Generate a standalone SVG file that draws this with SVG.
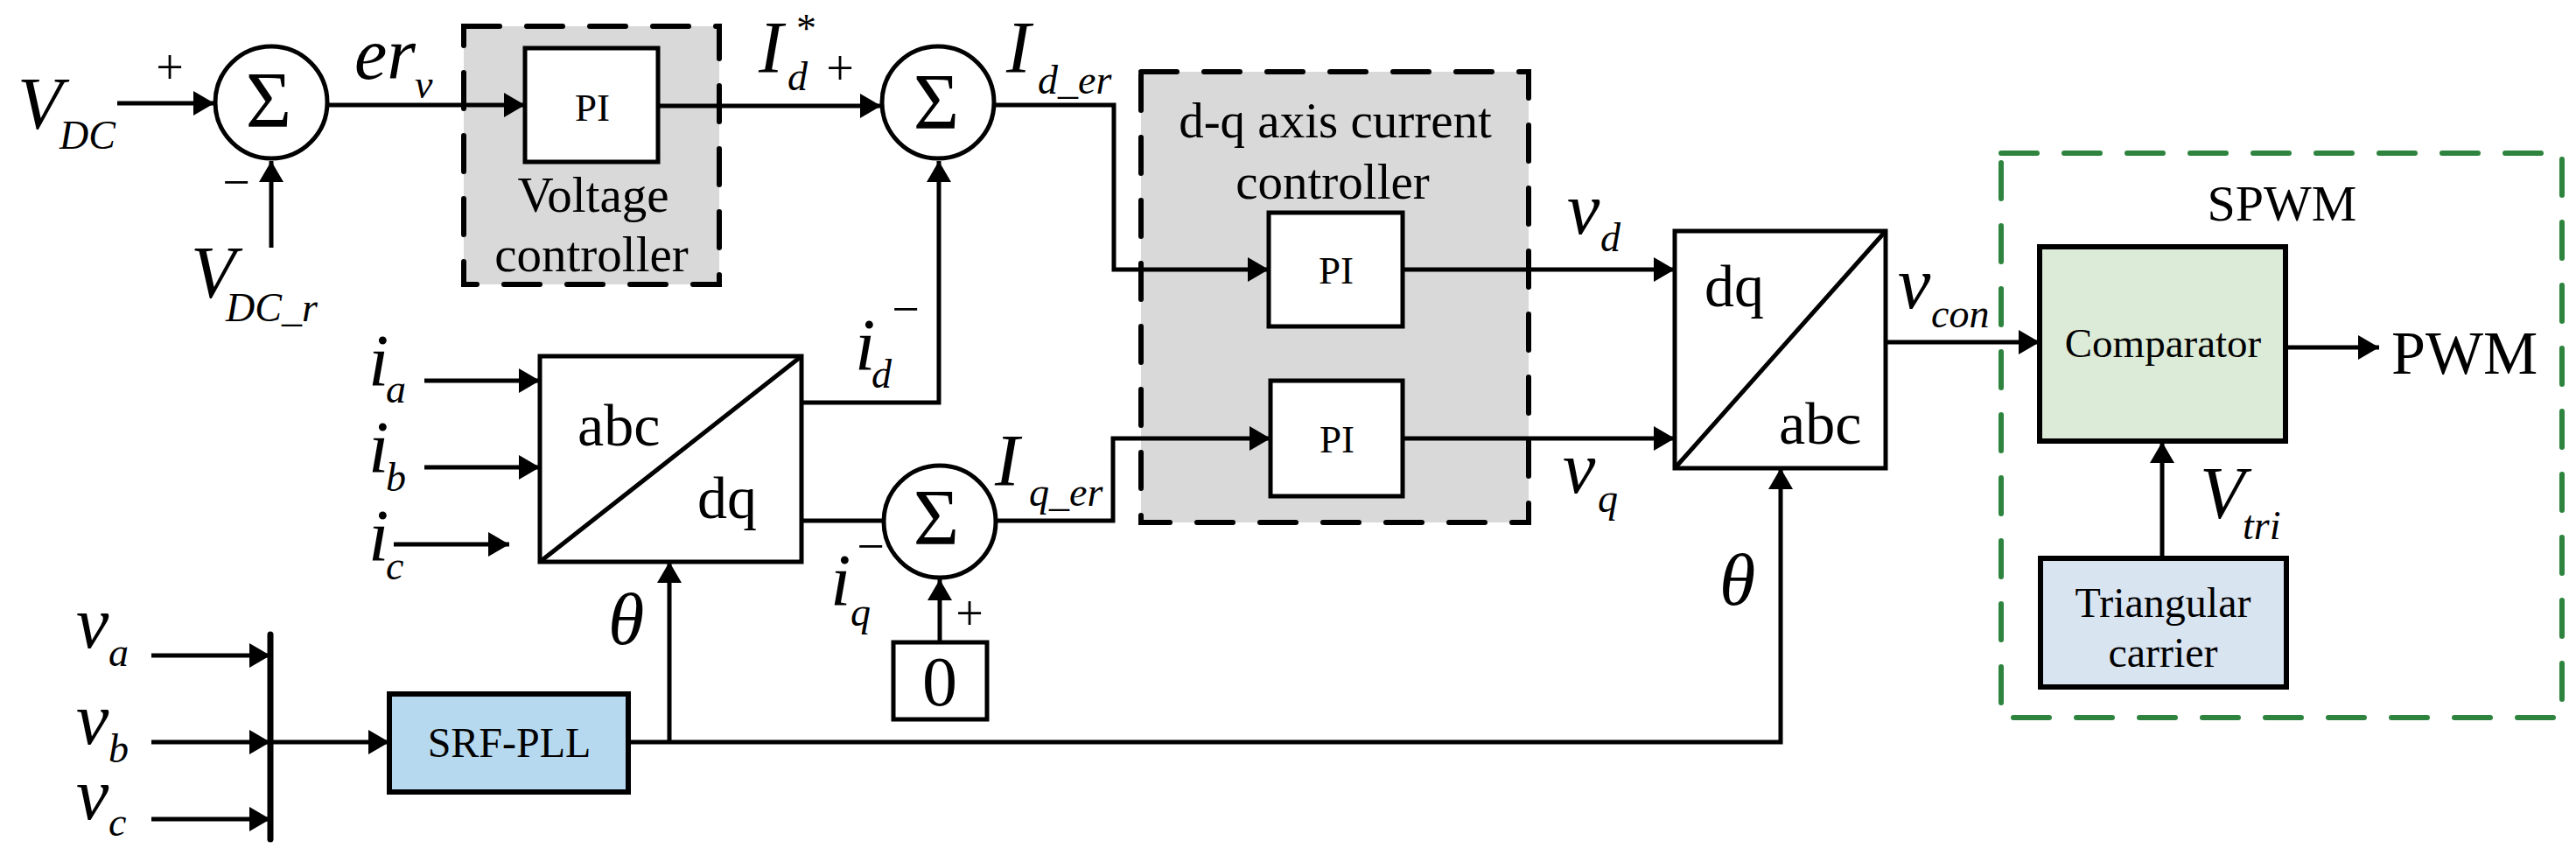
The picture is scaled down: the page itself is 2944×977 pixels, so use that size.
<svg xmlns="http://www.w3.org/2000/svg" width="2944" height="977" viewBox="0 0 2944 977">
<style>
  .ln{fill:none;stroke:#000;stroke-width:5;stroke-linejoin:miter}
  .arr{marker-end:url(#ah)}
  .box{fill:#fff;stroke:#000;stroke-width:5}
  .sum{fill:#fff;stroke:#000;stroke-width:5}
  .dash{fill:#d9d9d9;stroke:#000;stroke-width:6;stroke-dasharray:41 31;stroke-linecap:round}
  .gdash{fill:none;stroke:#2e843e;stroke-width:6;stroke-dasharray:41 31;stroke-linecap:round}
  text{font-family:"Liberation Serif","Times New Roman",serif;fill:#000}
  .it{font-style:italic}
  .v{font-size:84px}
  .s{font-size:46px}
  .sig{font-size:90px;text-anchor:middle}
  .lab{font-size:57px;text-anchor:middle}
  .pi{font-size:45px;text-anchor:middle}
  .xf{font-size:68px}
  .pm{font-size:56px;text-anchor:middle}
</style>
<defs>
  <marker id="ah" markerUnits="userSpaceOnUse" markerWidth="26" markerHeight="30" refX="24" refY="14" orient="auto">
    <path d="M0,0 L24,14 L0,28 Z" fill="#000"/>
  </marker>
</defs>

<!-- dashed containers (drawn first so connectors show over the fill) -->
<g id="voltage-controller">
  <rect class="dash" x="530" y="30" width="292" height="295"/>
  <text class="lab" x="678" y="242">Voltage</text>
  <text class="lab" x="676" y="310">controller</text>
</g>
<g id="dq-controller">
  <rect class="dash" x="1304" y="82" width="443" height="515"/>
  <text class="lab" x="1526" y="157">d-q axis current</text>
  <text class="lab" x="1523" y="227">controller</text>
</g>
<g id="spwm">
  <rect class="gdash" x="2287" y="175" width="641" height="645"/>
  <text x="2608" y="252" style="font-size:58px;text-anchor:middle">SPWM</text>
</g>

<!-- connectors -->
<g id="connectors">
  <line class="ln arr" x1="134" y1="118" x2="245" y2="118"/>
  <line class="ln arr" x1="310" y1="283" x2="310" y2="184"/>
  <line class="ln arr" x1="374" y1="120" x2="600" y2="120"/>
  <line class="ln arr" x1="752" y1="121" x2="1007" y2="121"/>
  <polyline class="ln arr" points="1137,120 1273,120 1273,308 1450,308"/>
  <polyline class="ln arr" points="916,460 1073,460 1073,184"/>
  <line class="ln" x1="916" y1="595" x2="1009" y2="595"/>
  <polyline class="ln arr" points="1137,595 1272,595 1272,501 1452,501"/>
  <line class="ln arr" x1="1074" y1="734" x2="1074" y2="662"/>
  <line class="ln arr" x1="1603" y1="308" x2="1914" y2="308"/>
  <line class="ln arr" x1="1603" y1="501" x2="1914" y2="501"/>
  <line class="ln arr" x1="2155" y1="391" x2="2331" y2="391"/>
  <line class="ln arr" x1="2612" y1="397" x2="2719" y2="397"/>
  <line class="ln arr" x1="2471" y1="638" x2="2471" y2="505"/>
  <polyline class="ln arr" points="718,848 2035,848 2035,535"/>
  <line class="ln arr" x1="765" y1="848" x2="765" y2="642"/>
  <line class="ln arr" x1="485" y1="435" x2="617" y2="435"/>
  <line class="ln arr" x1="485" y1="534" x2="617" y2="534"/>
  <line class="ln arr" x1="450" y1="622" x2="582" y2="622"/>
  <line class="ln arr" x1="173" y1="749" x2="309" y2="749"/>
  <line class="ln arr" x1="173" y1="848" x2="309" y2="848"/>
  <line class="ln arr" x1="173" y1="936" x2="309" y2="936"/>
  <line class="ln arr" x1="309" y1="848" x2="445" y2="848"/>
</g>

<g id="pi-voltage">
  <rect class="box" x="600" y="55" width="152" height="130"/>
  <text class="pi" x="677" y="138">PI</text>
</g>
<g id="pi-d">
  <rect class="box" x="1450" y="243" width="153" height="130"/>
  <text class="pi" x="1527" y="324">PI</text>
</g>
<g id="pi-q">
  <rect class="box" x="1452" y="435" width="151" height="132"/>
  <text class="pi" x="1528" y="517">PI</text>
</g>

<!-- summing junctions -->
<g id="sum1">
  <circle class="sum" cx="310" cy="117" r="64"/>
  <text class="sig" x="307" y="145">Σ</text>
</g>
<g id="sum2">
  <circle class="sum" cx="1072" cy="117" r="64"/>
  <text class="sig" x="1070" y="147">Σ</text>
</g>
<g id="sum3">
  <circle class="sum" cx="1074" cy="596" r="64"/>
  <text class="sig" x="1070" y="622">Σ</text>
</g>

<!-- zero constant -->
<g id="zero">
  <rect class="box" x="1021" y="734" width="107" height="88"/>
  <text x="1074" y="806" style="font-size:80px;text-anchor:middle">0</text>
</g>

<!-- abc to dq -->
<g id="abc-dq">
  <rect class="box" x="617" y="407" width="299" height="235"/>
  <line class="ln" x1="617" y1="642" x2="916" y2="407"/>
  <text class="xf" x="660" y="509">abc</text>
  <text class="xf" x="797" y="592">dq</text>
</g>

<!-- dq to abc -->
<g id="dq-abc">
  <rect class="box" x="1914" y="264" width="241" height="271"/>
  <line class="ln" x1="1914" y1="535" x2="2155" y2="264"/>
  <text class="xf" x="1948" y="350">dq</text>
  <text class="xf" x="2033" y="507">abc</text>
</g>

<!-- SRF-PLL -->
<g id="srf-pll">
  <rect x="445" y="793" width="273" height="112" fill="#b7d9f0" stroke="#000" stroke-width="6"/>
  <text x="582" y="865" style="font-size:48px;text-anchor:middle">SRF-PLL</text>
</g>

<!-- bus bar -->
<g id="bus">
  <line x1="309" y1="725" x2="309" y2="959" stroke="#000" stroke-width="7" stroke-linecap="round"/>
</g>

<g id="comparator">
  <rect x="2331" y="282" width="281" height="222" fill="#dcebd8" stroke="#000" stroke-width="6"/>
  <text x="2472" y="408" style="font-size:47px;text-anchor:middle">Comparator</text>
</g>
<g id="triangular">
  <rect x="2332" y="638" width="281" height="147" fill="#d9e4f1" stroke="#000" stroke-width="6"/>
  <text x="2472" y="705" style="font-size:48px;text-anchor:middle">Triangular</text>
  <text x="2472" y="762" style="font-size:48px;text-anchor:middle">carrier</text>
</g>
<g id="pwm-label">
  <text x="2733" y="427" style="font-size:70px">PWM</text>
</g>

<!-- signal labels -->
<g id="labels">
  <text class="it v" x="20" y="147">V</text><text class="it s" x="68" y="170">DC</text>
  <text class="pm" x="194" y="96">+</text>
  <text class="pm" x="270" y="227">−</text>
  <text class="it v" x="218" y="340">V</text><text class="it s" x="258" y="367">DC_r</text>
  <text class="it v" x="405" y="90">er</text><text class="it s" x="474" y="112">v</text>
  <text class="it v" x="867" y="83">I</text><text class="it s" x="900" y="103">d</text><text class="s" x="910" y="48">*</text>
  <text class="pm" x="960" y="97">+</text>
  <text class="it v" x="1150" y="83">I</text><text class="it s" x="1186" y="107">d_er</text>
  <text class="it v" x="977" y="423">i</text><text class="it s" x="996" y="443">d</text>
  <text class="pm" x="1035" y="372">−</text>
  <text class="it v" x="949" y="692">i</text><text class="it s" x="972" y="715">q</text>
  <text class="pm" x="995" y="643">−</text>
  <text class="pm" x="1108" y="720">+</text>
  <text class="it v" x="1137" y="555">I</text><text class="it s" x="1176" y="578">q_er</text>
  <text class="it v" x="1791" y="267">v</text><text class="it s" x="1829" y="287">d</text>
  <text class="it v" x="1786" y="563">v</text><text class="it s" x="1826" y="585">q</text>
  <text class="it v" x="2169" y="352">v</text><text class="it s" x="2207" y="374">con</text>
  <text class="it v" x="695" y="736">θ</text>
  <text class="it v" x="1965" y="691">θ</text>
  <text class="it v" x="2514" y="592">V</text><text class="it s" x="2563" y="616">tri</text>
  <text class="it v" x="421" y="441">i</text><text class="it s" x="441" y="460">a</text>
  <text class="it v" x="421" y="540">i</text><text class="it s" x="441" y="561">b</text>
  <text class="it v" x="421" y="641">i</text><text class="it s" x="441" y="662">c</text>
  <text class="it v" x="87" y="740">v</text><text class="it s" x="124" y="761">a</text>
  <text class="it v" x="87" y="850">v</text><text class="it s" x="124" y="871">b</text>
  <text class="it v" x="87" y="936">v</text><text class="it s" x="124" y="955">c</text>
</g>
</svg>
